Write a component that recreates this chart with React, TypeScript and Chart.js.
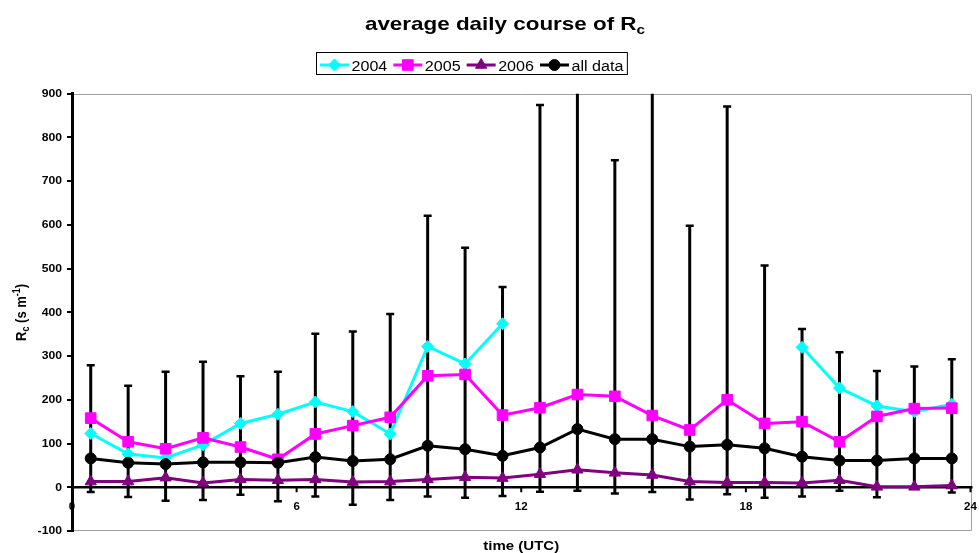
import React, { useEffect, useRef } from "react";
import { Chart, registerables } from "chart.js";
import { drawPoint } from "chart.js/helpers";

Chart.register(...registerables);

const FONT = "Arial, 'Liberation Sans', Helvetica, sans-serif";

// hour of day (UTC), centre of each hourly bin
const hours = [0.5, 1.5, 2.5, 3.5, 4.5, 5.5, 6.5, 7.5, 8.5, 9.5, 10.5, 11.5, 12.5, 13.5, 14.5, 15.5, 16.5, 17.5, 18.5, 19.5, 20.5, 21.5, 22.5, 23.5];

// canopy resistance Rc (s m-1) per year
const rc2004 = [123, 76, 67, 97, 146, 167, 195, 173, 122, 322, 282, 374, null, null, null, null, null, null, null, 320, 227, 186, 173, 190];
const rc2005 = [158, 104, 88, 113, 92, 64, 122, 141, 160, 255, 258, 165, 182, 212, 208, 164, 131, 200, 146, 150, 104, 162, 180, 181];
const rc2006 = [13, 13, 22, 10, 18, 16, 18, 12, 13, 18, 23, 21, 30, 40, 33, 28, 13, 11, 11, 10, 16, 1, 1, 4];
const rcAll = [66, 56, 53, 57, 57, 56, 69, 60, 64, 95, 87, 72, 91, 133, 110, 110, 93, 97, 89, 70, 61, 61, 66, 66];

// spread of all data (error bar ends)
const rcAllUpper = [279, 232, 264, 287, 254, 264, 351, 356, 396, 621, 548, 458, 874, 1000, 748, 1050, 598, 871, 507, 362, 309, 266, 276, 293];
const rcAllLower = [-11, -22, -31, -29, -17, -32, -21, -40, -29, -21, -24, -20, -10, -8, -14, -11, -28, -16, -24, -21, -8, -23, -3, -12];

const xTickValues = [0, 6, 12, 18, 24];

const seriesLabels = ["2004", "2005", "2006", "all data"];
const seriesValues = [rc2004, rc2005, rc2006, rcAll];
const seriesColors = ["#00FFFF", "#FF00FF", "#800080", "#000000"];
const seriesMarkers = ["rectRot", "rect", "triangle", "circle"];
const seriesRadii = [6, 7.5, 6.5, 5.5];

function drawText(
  ctx: CanvasRenderingContext2D,
  str: string,
  x: number,
  y: number,
  font: string,
  align: CanvasTextAlign,
  baseline: CanvasTextBaseline,
  sx: number
) {
  ctx.save();
  ctx.font = font;
  ctx.textAlign = align;
  ctx.textBaseline = baseline;
  ctx.fillStyle = "#000";
  ctx.translate(x, y);
  ctx.scale(sx, 1);
  ctx.fillText(str, 0, 0);
  ctx.restore();
}

const decorPlugin = {
  id: "rcDecor",
  beforeDraw(chart: any) {
    const { ctx, chartArea: a } = chart;
    ctx.save();
    ctx.fillStyle = "#fff";
    ctx.fillRect(0, 0, chart.width, chart.height);
    // plot area frame
    ctx.strokeStyle = "#a0a0a0";
    ctx.lineWidth = 1;
    const top = Math.round(a.top) + 0.5;
    const right = Math.round(a.right) + 0.5;
    const bottom = Math.round(a.bottom) - 0.5;
    ctx.beginPath();
    ctx.moveTo(a.left, top);
    ctx.lineTo(right, top);
    ctx.lineTo(right, bottom);
    ctx.lineTo(a.left, bottom);
    ctx.stroke();
    ctx.restore();
  },
  beforeDatasetsDraw(chart: any) {
    const { ctx, chartArea: a } = chart;
    const xs = chart.scales.x;
    const ys = chart.scales.y;
    ctx.save();
    ctx.beginPath();
    ctx.rect(a.left, a.top, a.right - a.left, a.bottom - a.top);
    ctx.clip();
    ctx.strokeStyle = "#000";
    ctx.lineCap = "butt";
    for (let i = 0; i < hours.length; i++) {
      const x = xs.getPixelForValue(hours[i]);
      const yt = ys.getPixelForValue(rcAllUpper[i]);
      const yb = ys.getPixelForValue(rcAllLower[i]);
      ctx.lineWidth = 3;
      ctx.beginPath();
      ctx.moveTo(x, yt);
      ctx.lineTo(x, yb);
      ctx.stroke();
      ctx.lineWidth = 2.5;
      ctx.beginPath();
      ctx.moveTo(x - 4, yt);
      ctx.lineTo(x + 4, yt);
      ctx.moveTo(x - 4, yb);
      ctx.lineTo(x + 4, yb);
      ctx.stroke();
    }
    ctx.restore();

    // horizontal axis through zero
    const y0 = ys.getPixelForValue(0);
    ctx.save();
    ctx.strokeStyle = "#000";
    ctx.lineWidth = 2.5;
    ctx.beginPath();
    ctx.moveTo(a.left, y0);
    ctx.lineTo(a.right + 2, y0);
    ctx.stroke();
    ctx.lineWidth = 2;
    ctx.beginPath();
    for (const v of xTickValues) {
      const px = xs.getPixelForValue(v);
      ctx.moveTo(px, y0);
      ctx.lineTo(px, y0 + 5);
    }
    ctx.stroke();
    ctx.restore();
  },
  afterDraw(chart: any) {
    const { ctx, chartArea: a } = chart;
    const xs = chart.scales.x;
    const ys = chart.scales.y;
    const tickFont = `bold 10px ${FONT}`;

    // y tick labels
    for (const t of ys.ticks) {
      drawText(ctx, String(t.value), a.left - 10, ys.getPixelForValue(t.value) + 0.5, tickFont, "right", "middle", 1.22);
    }
    // x tick labels
    const y0 = ys.getPixelForValue(0);
    for (const v of xTickValues) {
      drawText(ctx, String(v), xs.getPixelForValue(v), y0 + 23, tickFont, "center", "alphabetic", 1.15);
    }
    // x axis title
    drawText(ctx, "time (UTC)", (a.left + a.right) / 2, 550, `bold 12px ${FONT}`, "center", "alphabetic", 1.25);

    // y axis title, rotated: R_c (s m^-1)
    ctx.save();
    ctx.translate(26, (a.top + a.bottom) / 2);
    ctx.rotate(-Math.PI / 2);
    ctx.scale(1, 1.15);
    ctx.fillStyle = "#000";
    ctx.textBaseline = "alphabetic";
    const big = `bold 13px ${FONT}`;
    const small = `bold 9px ${FONT}`;
    const parts: [string, string, number][] = [
      ["R", big, 0],
      ["c", small, 3],
      [" (s m", big, 0],
      ["-1", small, -5],
      [")", big, 0],
    ];
    let total = 0;
    for (const [s, f] of parts) {
      ctx.font = f;
      total += ctx.measureText(s).width;
    }
    let cx = -total / 2;
    for (const [s, f, dy] of parts) {
      ctx.font = f;
      ctx.textAlign = "left";
      ctx.fillText(s, cx, dy);
      cx += ctx.measureText(s).width;
    }
    ctx.restore();

    // chart title with subscript
    const titleMain = "average daily course of R";
    const tsx = 1.18;
    ctx.save();
    ctx.font = `bold 19px ${FONT}`;
    const w1 = ctx.measureText(titleMain).width;
    ctx.font = `bold 13px ${FONT}`;
    const w2 = ctx.measureText("c").width;
    ctx.restore();
    const tStart = 505 - ((w1 + w2) * tsx) / 2;
    drawText(ctx, titleMain, tStart, 29.5, `bold 19px ${FONT}`, "left", "alphabetic", tsx);
    drawText(ctx, "c", tStart + w1 * tsx, 34, `bold 13px ${FONT}`, "left", "alphabetic", tsx);

    // legend
    const legFont = `14px ${FONT}`;
    const lsx = 1.15;
    const lineLen = 29;
    const ly = 65;
    let lx = 320;
    ctx.save();
    for (let i = 0; i < seriesLabels.length; i++) {
      ctx.strokeStyle = seriesColors[i];
      ctx.lineWidth = 3;
      ctx.beginPath();
      ctx.moveTo(lx, ly);
      ctx.lineTo(lx + lineLen, ly);
      ctx.stroke();
      ctx.fillStyle = seriesColors[i];
      ctx.lineWidth = 1;
      drawPoint(ctx, { pointStyle: seriesMarkers[i] as any, radius: seriesRadii[i], rotation: 0, borderWidth: 1 }, lx + lineLen / 2, ly);
      const tx = lx + lineLen + 2.5;
      drawText(ctx, seriesLabels[i], tx, 70.5, legFont, "left", "alphabetic", lsx);
      ctx.font = legFont;
      lx = tx + ctx.measureText(seriesLabels[i]).width * lsx + 6;
    }
    ctx.strokeStyle = "#000";
    ctx.lineWidth = 1;
    ctx.strokeRect(316.5, 52.5, lx - 6 + 4 - 316.5, 22);
    ctx.restore();
  },
};

export default function App() {
  const ref = useRef<HTMLCanvasElement>(null);

  useEffect(() => {
    const datasets = seriesLabels.map((label, i) => ({
      label,
      data: hours.map((h, j) => ({ x: h, y: seriesValues[i][j] })),
      borderColor: seriesColors[i],
      backgroundColor: seriesColors[i],
      borderWidth: 3,
      pointStyle: seriesMarkers[i] as any,
      pointRadius: seriesRadii[i],
      pointBorderWidth: 1,
      pointBorderColor: seriesColors[i],
      pointBackgroundColor: seriesColors[i],
      spanGaps: false,
      tension: 0,
      order: seriesLabels.length - i,
    }));

    const chart = new Chart(ref.current as HTMLCanvasElement, {
      type: "line",
      data: { datasets } as any,
      options: {
        animation: false,
        responsive: false,
        devicePixelRatio: 1,
        layout: { padding: { left: 0, right: 6.7, top: 93.7, bottom: 22 } },
        plugins: {
          legend: { display: false },
          title: { display: false },
          tooltip: { enabled: false },
        },
        scales: {
          x: { type: "linear", min: 0, max: 24, display: false },
          y: {
            type: "linear",
            min: -100,
            max: 900,
            ticks: { stepSize: 100, display: false },
            grid: { drawOnChartArea: false, drawTicks: true, tickLength: 5, color: "#000", lineWidth: 2 },
            border: { display: true, color: "#000", width: 3 },
            afterFit: (s: any) => {
              s.width = 72;
            },
          },
        },
      } as any,
      plugins: [decorPlugin as any],
    });
    return () => chart.destroy();
  }, []);

  return (
    <div style={{ position: "absolute", left: 0, top: 0, width: 979, height: 553 }}>
      <canvas ref={ref} width={979} height={553} style={{ display: "block", width: 979, height: 553 }} />
    </div>
  );
}
